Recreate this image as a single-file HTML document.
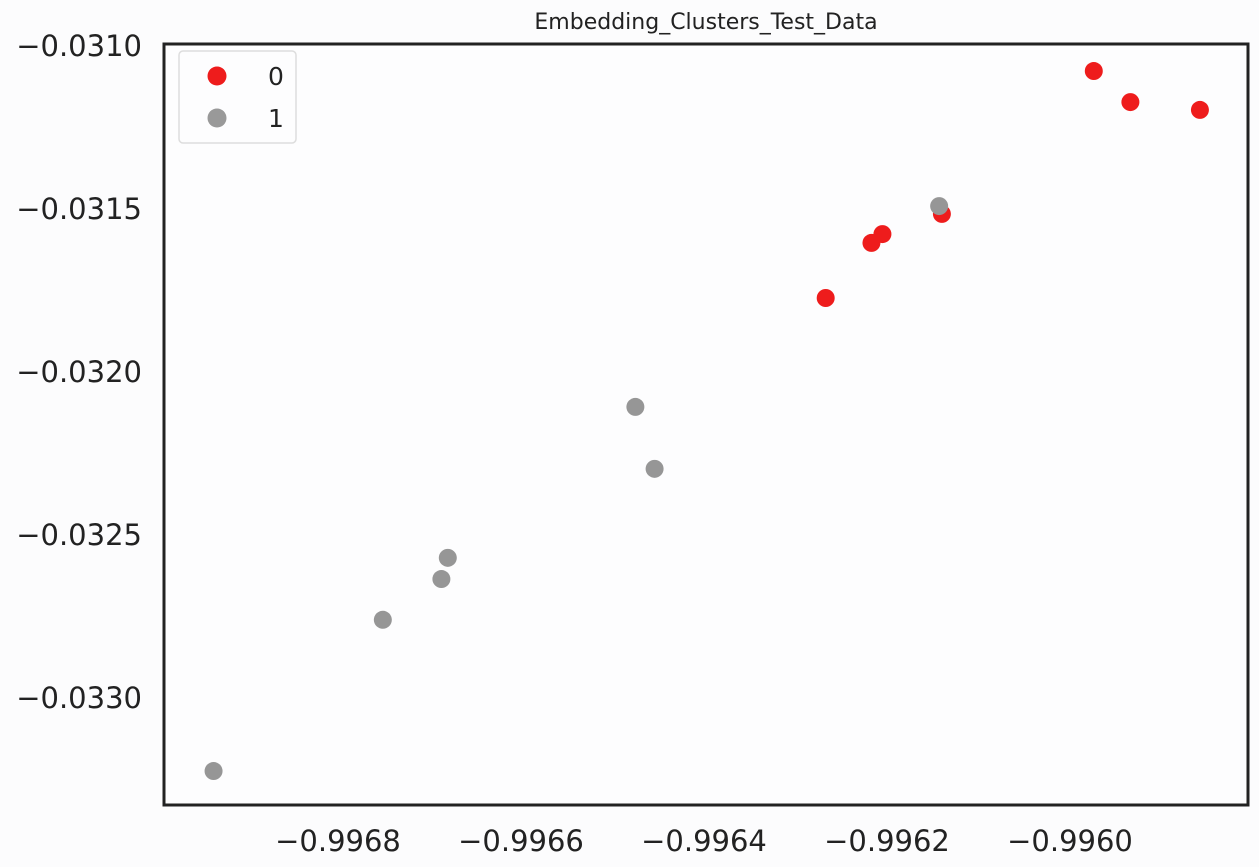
<!DOCTYPE html>
<html><head><meta charset="utf-8"><style>
body{margin:0;background:#fcfcfd;font-family:"DejaVu Sans","Liberation Sans",sans-serif;}
svg{display:block}
</style></head><body>
<svg id="c" width="1259" height="867">
<text x="706" y="29" text-anchor="middle" font-size="22" fill="#222">Embedding_Clusters_Test_Data</text>
<rect x="164" y="44" width="1084" height="761" fill="#fdfdfe" stroke="#222" stroke-width="3"/>
<g id="xt"></g><g id="yt"></g><g id="pts"></g>
<g>
<rect x="179" y="51" width="117" height="92" rx="4" fill="#fdfdfe" stroke="#ddd" stroke-width="1.5"/>
<circle cx="217" cy="76" r="9.5" fill="#ee1c1c"/>
<text x="268" y="85" font-size="25" fill="#222">0</text>
<circle cx="217" cy="118" r="9.5" fill="#999"/>
<text x="268" y="127" font-size="25" fill="#222">1</text>
</g>
</svg>
<script>
const xTicks=[-0.9968,-0.9966,-0.9964,-0.9962,-0.9960];
const xTickLabels=["−0.9968","−0.9966","−0.9964","−0.9962","−0.9960"];
const yTicks=[-0.0310,-0.0315,-0.0320,-0.0325,-0.0330];
const yTickLabels=["−0.0310","−0.0315","−0.0320","−0.0325","−0.0330"];
const x0=[-0.995974,-0.995934,-0.995858,-0.996140,-0.996205,-0.996217,-0.996267];
const y0=[-0.0310767,-0.031172,-0.031196,-0.031515,-0.031577,-0.031604,-0.031773];
const x1=[-0.996143,-0.996475,-0.996454,-0.996680,-0.996687,-0.996751,-0.996936];
const y1=[-0.031491,-0.032107,-0.032297,-0.032570,-0.032635,-0.032760,-0.033224];
const NS='http://www.w3.org/2000/svg';
function sx(v){return 338+(v+0.9968)/0.0002*183;}
function sy(v){return 46+(-0.0310-v)/0.0005*163;}
const xt=document.getElementById('xt'),yt=document.getElementById('yt'),pts=document.getElementById('pts');
xTicks.forEach((v,i)=>{const t=document.createElementNS(NS,'text');
t.setAttribute('x',sx(v));t.setAttribute('y',851);t.setAttribute('text-anchor','middle');t.setAttribute('font-size','29');t.setAttribute('fill','#222');
t.textContent=xTickLabels[i];


xt.appendChild(t);});
yTicks.forEach((v,i)=>{const t=document.createElementNS(NS,'text');
t.setAttribute('x',142);t.setAttribute('y',sy(v)+10);t.setAttribute('text-anchor','end');t.setAttribute('font-size','29');t.setAttribute('fill','#222');
t.textContent=yTickLabels[i];


yt.appendChild(t);});
function dot(x,y,col,name){const c=document.createElementNS(NS,'circle');
c.setAttribute('cx',sx(x));c.setAttribute('cy',sy(y));c.setAttribute('r',9);c.setAttribute('fill',col);


pts.appendChild(c);}
x0.forEach((x,i)=>dot(x,y0[i],'#ee1c1c','point-class-0'));
x1.forEach((x,i)=>dot(x,y1[i],'#969696','point-class-1'));
</script>
</body></html>
